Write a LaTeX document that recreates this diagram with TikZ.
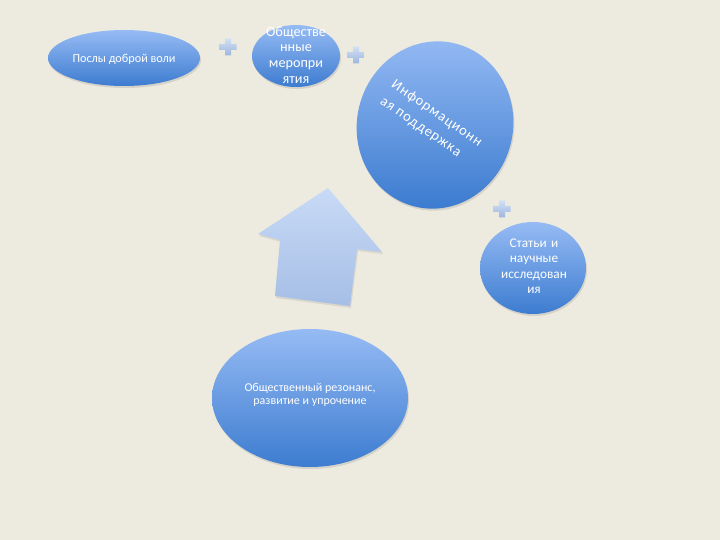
\documentclass[tikz,border=0pt]{standalone}
\usepackage{fontspec}
\setmainfont{Carlito}
\newfontfamily\infofont[LetterSpace=6]{Carlito}
\usetikzlibrary{shapes.geometric,shadows}
\definecolor{bgc}{HTML}{EDEAE0}
\definecolor{elltop}{HTML}{96BBF4}
\definecolor{ellbot}{HTML}{3D7CD0}
\definecolor{arrtop}{HTML}{C8DAF6}
\definecolor{arrbot}{HTML}{A6BEE6}
\definecolor{plustop}{HTML}{D2E0F4}
\definecolor{plusbot}{HTML}{9DB6DE}
\tikzset{
  blob/.style={ellipse, draw=none, shading=axis, top color=elltop, bottom color=ellbot,
    drop shadow={shadow xshift=1pt, shadow yshift=-2pt, opacity=0.18, fill=black!60}},
  lbl/.style={text=white, align=center, inner sep=0pt},
  plussign/.pic={\shade[top color=plustop, bottom color=plusbot]
     (-3,-8.5) -- (3,-8.5) -- (3,-3) -- (8.5,-3) -- (8.5,3) -- (3,3) -- (3,8.5)
     -- (-3,8.5) -- (-3,3) -- (-8.5,3) -- (-8.5,-3) -- (-3,-3) -- cycle;}
}
\begin{document}
\begin{tikzpicture}[x=1pt,y=-1pt]
\fill[bgc] (0,0) rectangle (720,540);
\useasboundingbox (0,0) rectangle (720,540);

% ellipses
\node[blob, minimum width=152pt, minimum height=56pt] (e1) at (124,58) {};
\node[lbl, font=\fontsize{12.2}{14}\selectfont] (t1) at (124,59) {Послы доброй воли};

\node[blob, minimum width=88pt, minimum height=62pt] (e2) at (296,56) {};
\node[lbl, text width=80pt, font=\fontsize{14.2}{15.7}\selectfont] (t2) at (296,55) {Обществе\\нные\\меропри\\ятия};

\node[blob, minimum width=156pt, minimum height=168pt, rotate=-14] (e3) at (435,125) {};
\node[lbl, align=left, rotate=-34.6, font=\infofont\fontsize{14.5}{20}\selectfont] (t3) at (431,122) {Информационн\\ая поддержка};

\node[blob, minimum width=106pt, minimum height=92pt] (e4) at (533,268) {};
\node[lbl, text width=80pt, font=\fontsize{13.3}{15.5}\selectfont] (t4) at (534,266) {Статьи и\\научные\\исследован\\ия};

\node[blob, minimum width=196pt, minimum height=138pt] (e5) at (310,398) {};
\node[lbl, font=\fontsize{12}{13.5}\selectfont] (t5) at (310,395) {Общественный резонанс,\\развитие и упрочение};

% plus signs
\pic at (228,47) {plussign};
\pic at (356,55) {plussign};
\pic at (502,209) {plussign};

% arrow
\coordinate (tip) at (328,188);
\shade[top color=arrtop, bottom color=arrbot,
  drop shadow={shadow xshift=1pt, shadow yshift=-2pt, opacity=0.15, fill=black!60}]
  (tip) -- (382,252) -- (357,249) -- (350,306) -- (275,296) -- (280,240) -- (258,234) -- cycle;
\end{tikzpicture}
\end{document}
